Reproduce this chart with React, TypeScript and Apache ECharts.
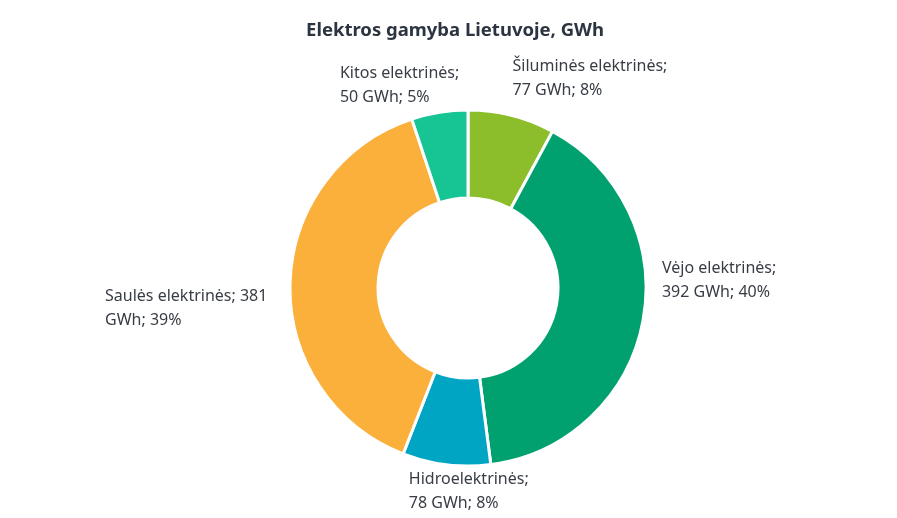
import React, { useEffect, useRef } from "react";
import * as echarts from "echarts";

const categories = ["Šiluminės elektrinės", "Vėjo elektrinės", "Hidroelektrinės", "Saulės elektrinės", "Kitos elektrinės"];
const values = [77, 392, 78, 381, 50];
const colors = ["#8BBE2A", "#00A06F", "#00A5C4", "#FBB03C", "#17C494"];
const labelWidths = [185, 140, 140, 190, 140];
// label nudges relative to ECharts' own outside placement
const labelShiftX = [-5, 10, 108, 14, 46];
const labelShiftY = [-35, -42, 21, 24, -24];

export default function App() {
  const ref = useRef<HTMLDivElement>(null);
  useEffect(() => {
    if (!ref.current) return;
    const chart = echarts.init(ref.current, null, { renderer: "svg" });
    const total = values.reduce((a, b) => a + b, 0);
    chart.setOption({
      animation: false,
      title: {
        text: "Elektros gamyba Lietuvoje, GWh",
        left: 450,
        textAlign: "center",
        top: 14,
        textStyle: { fontFamily: "Noto Sans", fontSize: 18.5, fontWeight: "bold", color: "#2B3440" },
      },
      series: [
        {
          type: "pie",
          center: [468, 288],
          radius: [90, 178],
          startAngle: 90,
          clockwise: true,
          avoidLabelOverlap: false,
          itemStyle: { borderColor: "#ffffff", borderWidth: 3 },
          label: {
            show: true,
            position: "outside",
            fontFamily: "Noto Sans",
            fontSize: 16,
            lineHeight: 24,
            color: "#383D45",
            overflow: "break",
            formatter: (p: any) => `${p.name}; ${p.value} GWh; ${Math.round((p.value / total) * 100)}%`,
          },
          labelLine: { show: false, length: 4, length2: 0 },
          labelLayout: (p: any) => ({
            x: p.labelRect.x + labelShiftX[p.dataIndex],
            y: p.labelRect.y + labelShiftY[p.dataIndex],
            align: "left",
            verticalAlign: "top",
          }),
          data: categories.map((c, i) => ({
            name: c,
            value: values[i],
            itemStyle: { color: colors[i] },
            label: { width: labelWidths[i] },
          })),
        },
      ],
    });
    return () => chart.dispose();
  }, []);
  return <div ref={ref} style={{ position: "fixed", left: 0, top: 0, width: 897, height: 518 }} />;
}
